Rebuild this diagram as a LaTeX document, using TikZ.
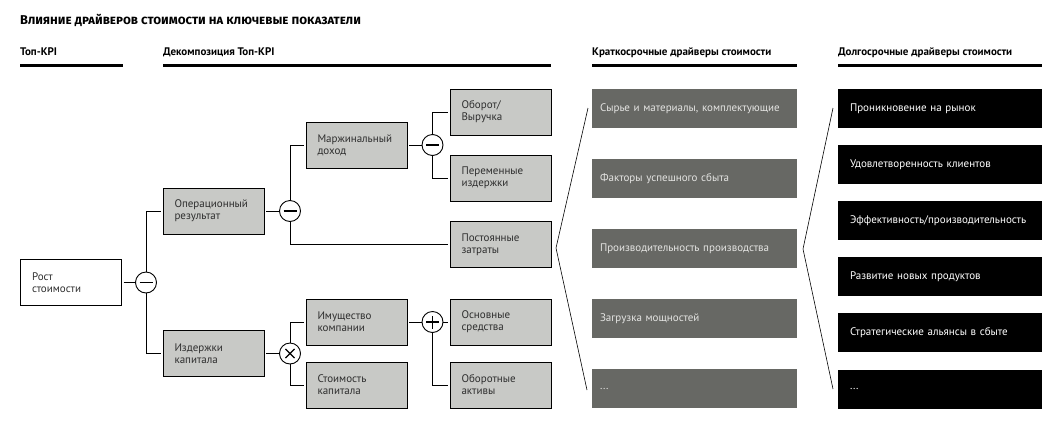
\documentclass[tikz,border=0pt]{standalone}
\usepackage{fontspec}
\setmainfont{PT Sans}
\newfontfamily\titlefont{Fira Sans}
\definecolor{kpigray}{HTML}{C8C9C6}
\definecolor{kpitext}{HTML}{2E2E2E}
\definecolor{shortgray}{HTML}{676864}
\definecolor{shorttext}{HTML}{E4E4E2}

\begin{document}
\begin{tikzpicture}[x=1pt,y=-1pt,line join=miter,
    box/.style={draw,line width=0.9pt,minimum width=101pt,minimum height=46pt,
      text width=78pt,inner xsep=11.5pt,align=left,outer sep=2pt,
      font=\fontsize{11}{12}\selectfont,text=kpitext},
    kpi/.style={box,fill=kpigray},
    op/.style={circle,draw,line width=0.9pt,fill=white,minimum size=21pt,inner sep=0pt},
    opminus/.style={op,path picture={
      \draw[line width=1.1pt] ([xshift=-6.5pt]path picture bounding box.center)
        -- ([xshift=6.5pt]path picture bounding box.center);}},
    opplus/.style={op,path picture={
      \draw[line width=1.1pt] ([xshift=-6.5pt]path picture bounding box.center)
        -- ([xshift=6.5pt]path picture bounding box.center)
        ([yshift=-6.5pt]path picture bounding box.center)
        -- ([yshift=6.5pt]path picture bounding box.center);}},
    optimes/.style={op,path picture={
      \draw[line width=1.1pt] ([shift={(-4.6pt,-4.6pt)}]path picture bounding box.center)
        -- ([shift={(4.6pt,4.6pt)}]path picture bounding box.center)
        ([shift={(-4.6pt,4.6pt)}]path picture bounding box.center)
        -- ([shift={(4.6pt,-4.6pt)}]path picture bounding box.center);}},
    shortdrv/.style={fill=shortgray,text=shorttext,minimum width=205pt,minimum height=39pt,
      text width=189pt,inner xsep=8pt,align=left,font=\fontsize{11}{12}\selectfont},
    longdrv/.style={fill=black,text=white,minimum width=204pt,minimum height=39pt,
      text width=180pt,inner xsep=12pt,align=left,font=\fontsize{11}{12}\selectfont},
    head/.style={anchor=base west,inner sep=0pt,font=\fontsize{11}{12}\selectfont\bfseries},
    bar/.style={line width=2.4pt}]
  \useasboundingbox (0,0) rectangle (1062,437);

  \node[anchor=base west,inner sep=0pt,font=\titlefont\fontsize{12.8}{14}\selectfont\bfseries\scshape]
    (title) at (20,24) {Влияние драйверов стоимости на ключевые показатели};

  % column heads
  \node[head] (hkpi) at (20,55) {Топ-KPI};
  \node[head] (hdec) at (163,55) {Декомпозиция Топ-KPI};
  \node[head] (hshort) at (592,55) {Краткосрочные драйверы стоимости};
  \node[head] (hlong) at (838,55) {Долгосрочные драйверы стоимости};
  \draw[bar] (20,65.5) -- (123,65.5);
  \draw[bar] (163,65.5) -- (551,65.5);
  \draw[bar] (592,65.5) -- (797,65.5);
  \draw[bar] (838,65.5) -- (1042,65.5);

  % KPI tree
  \node[box] (growth) at (71,282.5) {Рост\\стоимости};
  \node[opminus] (c1) at (146,282.5) {};
  \node[kpi] (opres) at (213.5,211) {Операционный\\результат};
  \node[kpi] (capc) at (213.5,353.5) {Издержки\\капитала};
  \node[opminus] (c2) at (290,211) {};
  \node[kpi] (marg) at (356.5,145) {Маржинальный\\доход};
  \node[opminus] (c3) at (432.5,145) {};
  \node[kpi] (turn) at (500.5,112) {Оборот/\\Выручка};
  \node[kpi] (varc) at (500.5,178) {Переменные\\издержки};
  \node[kpi] (fixc) at (500.5,244.5) {Постоянные\\затраты};
  \node[optimes] (c4) at (290,353.5) {};
  \node[kpi] (prop) at (356.5,322) {Имущество\\компании};
  \node[kpi] (ccost) at (356.5,385) {Стоимость\\капитала};
  \node[opplus] (c5) at (432.5,322) {};
  \node[kpi] (fixa) at (500.5,322) {Основные\\средства};
  \node[kpi] (cura) at (500.5,385) {Оборотные\\активы};

  \begin{scope}[line width=0.9pt]
    \draw (growth) -- (c1);
    \draw (c1.north) |- (opres.west);
    \draw (c1.south) |- (capc.west);
    \draw (opres) -- (c2);
    \draw (c2.north) |- (marg.west);
    \draw (c2.south) |- (fixc.west);
    \draw (marg) -- (c3);
    \draw (c3.north) |- (turn.west);
    \draw (c3.south) |- (varc.west);
    \draw (capc) -- (c4);
    \draw (c4.north) |- (prop.west);
    \draw (c4.south) |- (ccost.west);
    \draw (prop) -- (c5);
    \draw (c5) -- (fixa);
    \draw (c5.south) |- (cura.west);
  \end{scope}

  % short-term drivers
  \node[shortdrv] (s1) at (694.5,108.5) {Сырье и материалы, комплектующие};
  \node[shortdrv] (s2) at (694.5,178.5) {Факторы успешного сбыта};
  \node[shortdrv] (s3) at (694.5,248.5) {Производительность производства};
  \node[shortdrv] (s4) at (694.5,318.5) {Загрузка мощностей};
  \node[shortdrv] (s5) at (694.5,388.5) {...};

  % long-term drivers
  \node[longdrv] (l1) at (940,108.5) {Проникновение на рынок};
  \node[longdrv] (l2) at (940,164.6) {Удовлетворенность клиентов};
  \node[longdrv] (l3) at (940,220.7) {Эффективность/производительность};
  \node[longdrv] (l4) at (940,276.8) {Развитие новых продуктов};
  \node[longdrv] (l5) at (940,332.9) {Стратегические альянсы в сбыте};
  \node[longdrv] (l6) at (940,389) {...};

  \draw[line width=0.6pt] (588,108) -- (556,248) -- (587,390);
  \draw[line width=0.6pt] (833,108) -- (803,249) -- (833,389);
\end{tikzpicture}
\end{document}
